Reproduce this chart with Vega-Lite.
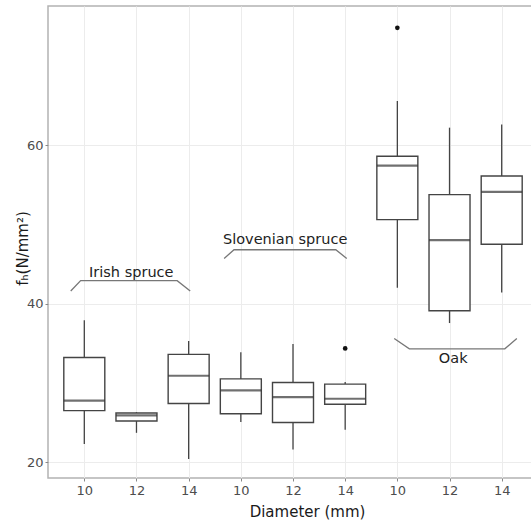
{
  "$schema": "https://vega.github.io/schema/vega-lite/v6.json",
  "width": 490,
  "height": 472,
  "autosize": "none",
  "padding": {"left": 48, "top": 6, "right": 0, "bottom": 47},
  "background": "white",
  "config": {
    "font": "DejaVu Sans",
    "view": {"stroke": "#b3b3b3", "strokeWidth": 1.5}
  },
  "datasets": {
    "boxes": [
      {"species": "Irish spruce", "diameter": "10", "pos": 1, "lower": 22.3, "q1": 26.5, "median": 27.75, "q3": 33.2, "upper": 37.9},
      {"species": "Irish spruce", "diameter": "12", "pos": 2, "lower": 23.7, "q1": 25.2, "median": 25.9, "q3": 26.2, "upper": 26.3},
      {"species": "Irish spruce", "diameter": "14", "pos": 3, "lower": 20.4, "q1": 27.4, "median": 30.9, "q3": 33.6, "upper": 35.3},
      {"species": "Slovenian spruce", "diameter": "10", "pos": 4, "lower": 25.05, "q1": 26.1, "median": 29.05, "q3": 30.5, "upper": 33.85},
      {"species": "Slovenian spruce", "diameter": "12", "pos": 5, "lower": 21.6, "q1": 25.0, "median": 28.2, "q3": 30.05, "upper": 34.9},
      {"species": "Slovenian spruce", "diameter": "14", "pos": 6, "lower": 24.1, "q1": 27.3, "median": 28.0, "q3": 29.85, "upper": 30.1},
      {"species": "Oak", "diameter": "10", "pos": 7, "lower": 42.0, "q1": 50.6, "median": 57.4, "q3": 58.6, "upper": 65.55},
      {"species": "Oak", "diameter": "12", "pos": 8, "lower": 37.55, "q1": 39.1, "median": 48.0, "q3": 53.75, "upper": 62.2},
      {"species": "Oak", "diameter": "14", "pos": 9, "lower": 41.4, "q1": 47.5, "median": 54.1, "q3": 56.1, "upper": 62.6}
    ],
    "outliers": [
      {"species": "Slovenian spruce", "diameter": "14", "pos": 6, "value": 34.35},
      {"species": "Oak", "diameter": "10", "pos": 7, "value": 74.8}
    ],
    "brackets": [
      {"group": "Irish spruce", "ord": 1, "x": 0.74, "y": 41.6},
      {"group": "Irish spruce", "ord": 2, "x": 0.93, "y": 42.9},
      {"group": "Irish spruce", "ord": 3, "x": 2.78, "y": 42.9},
      {"group": "Irish spruce", "ord": 4, "x": 3.03, "y": 41.6},
      {"group": "Slovenian spruce", "ord": 1, "x": 3.68, "y": 45.7},
      {"group": "Slovenian spruce", "ord": 2, "x": 3.87, "y": 46.8},
      {"group": "Slovenian spruce", "ord": 3, "x": 5.82, "y": 46.8},
      {"group": "Slovenian spruce", "ord": 4, "x": 6.03, "y": 45.7},
      {"group": "Oak", "ord": 1, "x": 6.94, "y": 35.6},
      {"group": "Oak", "ord": 2, "x": 7.23, "y": 34.3},
      {"group": "Oak", "ord": 3, "x": 9.06, "y": 34.3},
      {"group": "Oak", "ord": 4, "x": 9.29, "y": 35.6}
    ],
    "labels": [
      {"label": "Irish spruce", "x": 1.9, "y": 43.9},
      {"label": "Slovenian spruce", "x": 4.85, "y": 48.0},
      {"label": "Oak", "x": 8.07, "y": 33.0}
    ]
  },
  "layer": [
    {
      "data": {"name": "boxes"},
      "mark": {"type": "rule", "color": "#444444", "strokeWidth": 1.3},
      "encoding": {
        "x": {
          "field": "pos", "type": "quantitative",
          "scale": {"domain": [0.4, 9.6], "nice": false, "zero": false},
          "axis": {
            "values": [1, 2, 3, 4, 5, 6, 7, 8, 9],
            "labelExpr": "['10','12','14'][(datum.value - 1) % 3]",
            "title": "Diameter (mm)",
            "titleFontSize": 15,
            "titleFontWeight": "normal",
            "titleColor": "#1a1a1a",
            "titleX": 259,
            "titleY": 26,
            "titleBaseline": "top",
            "labelFontSize": 13,
            "labelColor": "#4d4d4d",
            "labelPadding": 3,
            "tickSize": 3,
            "tickColor": "#888888",
            "domain": false,
            "grid": true,
            "gridColor": "#ececec",
            "gridWidth": 1
          }
        },
        "y": {
          "field": "lower", "type": "quantitative",
          "scale": {"domain": [18.0, 77.55], "nice": false, "zero": false},
          "axis": {
            "values": [20, 40, 60],
            "title": "fₕ(N/mm²)",
            "titleFontSize": 15,
            "titleFontWeight": "normal",
            "titleColor": "#1a1a1a",
            "titleX": -26,
            "titleY": 242,
            "titleBaseline": "middle",
            "labelFontSize": 13,
            "labelColor": "#4d4d4d",
            "labelPadding": 2,
            "tickSize": 3,
            "tickColor": "#888888",
            "domain": false,
            "grid": true,
            "gridColor": "#ececec",
            "gridWidth": 1
          }
        },
        "y2": {"field": "upper"}
      }
    },
    {
      "data": {"name": "boxes"},
      "mark": {"type": "bar", "size": 41, "fill": "white", "stroke": "#444444", "strokeWidth": 1.4},
      "encoding": {
        "x": {"field": "pos", "type": "quantitative"},
        "y": {"field": "q1", "type": "quantitative"},
        "y2": {"field": "q3"}
      }
    },
    {
      "data": {"name": "boxes"},
      "mark": {"type": "tick", "orient": "horizontal", "size": 41, "thickness": 2.2, "color": "#333333"},
      "encoding": {
        "x": {"field": "pos", "type": "quantitative"},
        "y": {"field": "median", "type": "quantitative"}
      }
    },
    {
      "data": {"name": "outliers"},
      "mark": {"type": "point", "filled": true, "size": 22, "color": "#111111", "opacity": 1},
      "encoding": {
        "x": {"field": "pos", "type": "quantitative"},
        "y": {"field": "value", "type": "quantitative"}
      }
    },
    {
      "data": {"name": "brackets"},
      "mark": {"type": "line", "color": "#777777", "strokeWidth": 1.3},
      "encoding": {
        "x": {"field": "x", "type": "quantitative"},
        "y": {"field": "y", "type": "quantitative"},
        "detail": {"field": "group"},
        "order": {"field": "ord"}
      }
    },
    {
      "data": {"name": "labels"},
      "mark": {"type": "text", "fontSize": 14.5, "color": "#222222", "baseline": "middle", "align": "center"},
      "encoding": {
        "x": {"field": "x", "type": "quantitative"},
        "y": {"field": "y", "type": "quantitative"},
        "text": {"field": "label"}
      }
    }
  ]
}
